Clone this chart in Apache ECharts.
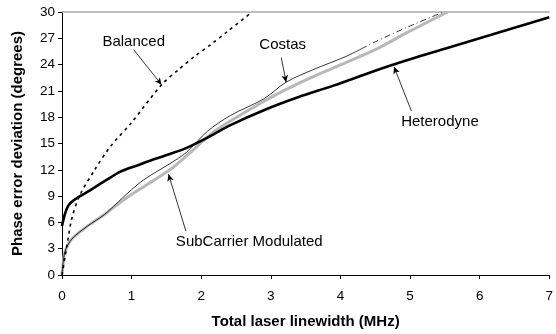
<!DOCTYPE html>
<html>
<head>
<meta charset="utf-8">
<script src="https://cdn.jsdelivr.net/npm/echarts@6/dist/echarts.min.js"></script>
<style>
  html, body { margin: 0; padding: 0; background: #fff; }
  #chart { width: 556px; height: 334px; }
</style>
</head>
<body>
<div id="chart"></div>
<script>
// readings: [linewidth MHz, phase error deg]
const heterodyne = [[0, 5.6], [0.04, 6.9], [0.09, 7.9], [0.18, 8.6], [0.37, 9.5], [0.61, 10.7], [0.84, 11.8],
  [1.08, 12.5], [1.32, 13.2], [1.55, 13.8], [1.79, 14.5], [2.12, 15.8], [2.42, 17.1], [2.9, 18.8],
  [3.4, 20.3], [3.9, 21.6], [4.5, 23.3], [5.0, 24.6], [5.5, 25.8], [6.0, 27.0], [6.5, 28.2], [7.0, 29.4]];
const balanced = [[0, 0], [0.07, 3.3], [0.14, 6.4], [0.25, 9.0], [0.47, 12.0], [0.7, 14.7], [1.0, 17.4],
  [1.43, 21.7], [1.67, 23.4], [1.9, 24.9], [2.14, 26.3], [2.38, 27.8], [2.73, 30]];
const subCarrier = [[0, 0], [0.02, 1.5], [0.04, 2.6], [0.14, 4.1], [0.37, 5.6], [0.61, 6.9], [0.84, 8.3],
  [1.08, 9.6], [1.32, 10.8], [1.55, 12.0], [1.79, 13.6], [2.07, 15.6], [2.19, 16.4], [2.66, 18.7],
  [3.13, 20.8], [3.6, 22.6], [4.07, 24.2], [4.5, 25.7], [4.97, 27.7], [5.54, 30]];
const costas = [[0, 0], [0.04, 2.6], [0.14, 4.1], [0.37, 5.6], [0.61, 6.9], [0.87, 8.8], [1.13, 10.6],
  [1.32, 11.6], [1.55, 12.7], [1.79, 14.0], [2.09, 16.4], [2.42, 18.2], [2.9, 20.1], [3.22, 22.0],
  [3.6, 23.4], [4.07, 24.9], [4.3, 25.8]];
const costasTail = [[4.3, 25.8], [4.5, 26.6], [4.97, 28.3], [5.48, 30]];

const xTicks = [0, 1, 2, 3, 4, 5, 6, 7];
const yTicks = [0, 3, 6, 9, 12, 15, 18, 21, 24, 27, 30];

// label text, text anchor [x, y], arrow start, arrow tip (data units)
const notes = [
  ['Balanced', [1.03, 26.6], [1.03, 25.7], [1.43, 21.7]],
  ['Costas', [3.17, 26.3], [3.15, 24.8], [3.22, 22.0]],
  ['Heterodyne', [5.43, 17.5], [5.02, 18.7], [4.77, 23.75]],
  ['SubCarrier Modulated', [2.69, 3.75], [1.78, 5.0], [1.53, 11.5]]
];

const font = 'Liberation Sans, Arial, sans-serif';
const chart = echarts.init(document.getElementById('chart'));

chart.setOption({
  animation: false,
  grid: { left: 62, top: 12, width: 495, height: 264 },
  xAxis: [
    {
      type: 'value', min: xTicks[0], max: xTicks[xTicks.length - 1], interval: 1,
      name: 'Total laser linewidth (MHz)', nameLocation: 'middle', nameGap: 39,
      nameTextStyle: { fontFamily: font, fontWeight: 'bold', fontSize: 15, color: '#000' },
      axisLine: { lineStyle: { color: '#000', width: 1 } },
      axisTick: { show: true, length: 4, inside: false, lineStyle: { color: '#000' } },
      axisLabel: { fontFamily: font, fontSize: 13.5, color: '#000', margin: 14 },
      splitLine: { show: false }
    },
    {
      type: 'value', position: 'top', min: 0, max: 7,
      axisLine: { show: true, lineStyle: { color: '#aaa', width: 1.5 } },
      axisTick: { show: false }, axisLabel: { show: false }, splitLine: { show: false }
    }
  ],
  yAxis: {
    type: 'value', min: yTicks[0], max: yTicks[yTicks.length - 1], interval: 3,
    name: 'Phase error deviation (degrees)', nameLocation: 'middle', nameGap: 37,
    nameTextStyle: { fontFamily: font, fontWeight: 'bold', fontSize: 15, color: '#000' },
    axisLine: { show: true, lineStyle: { color: '#000', width: 1 } },
    axisTick: { show: true, length: 4, lineStyle: { color: '#000' } },
    axisLabel: { fontFamily: font, fontSize: 13.5, color: '#000', margin: 7 },
    splitLine: { show: false }
  },
  series: [
    {
      name: 'SubCarrier Modulated', type: 'line', data: subCarrier, showSymbol: false, z: 2, smooth: 0.3,
      lineStyle: { color: '#b8b8b8', width: 3 }
    },
    {
      name: 'Costas', type: 'line', data: costas, showSymbol: false, z: 3, smooth: 0.3,
      lineStyle: { color: '#000', width: 0.8 }
    },
    {
      name: 'Costas tail', type: 'line', data: costasTail, showSymbol: false, z: 3, smooth: 0.3,
      lineStyle: { color: '#000', width: 0.8, type: [6, 3, 1, 3] }
    },
    {
      name: 'Balanced', type: 'line', data: balanced, showSymbol: false, z: 3, smooth: 0.3,
      lineStyle: { color: '#000', width: 1.6, type: [3, 4] }
    },
    {
      name: 'Heterodyne', type: 'line', data: heterodyne, showSymbol: false, z: 4, smooth: 0.3,
      lineStyle: { color: '#000', width: 2.6 }
    },
    {
      name: 'notes', type: 'line', data: [], z: 5,
      markLine: {
        silent: true, symbol: ['none', 'arrow'], symbolSize: [5, 7],
        label: { show: false },
        lineStyle: { color: '#000', width: 0.8, type: 'solid' },
        data: notes.map(n => [{ coord: n[2] }, { coord: n[3] }])
      },
      markPoint: {
        silent: true, symbol: 'circle', symbolSize: 0,
        label: { show: true, fontFamily: font, fontSize: 15, color: '#000', position: 'inside' },
        data: notes.map(n => ({ coord: n[1], value: n[0], label: { formatter: n[0] } }))
      }
    }
  ]
});
</script>
</body>
</html>
